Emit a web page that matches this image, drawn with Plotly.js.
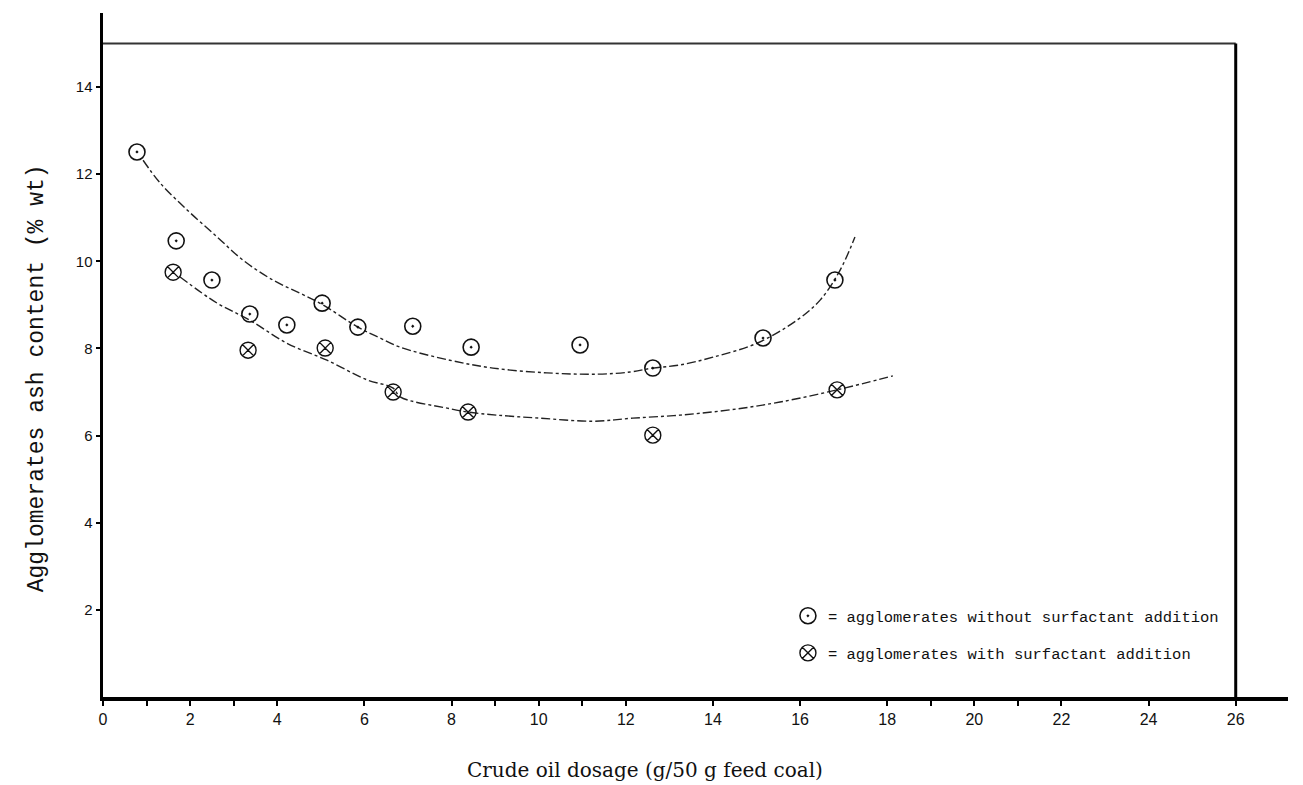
<!DOCTYPE html>
<html>
<head>
<meta charset="utf-8">
<script src="https://cdn.plot.ly/plotly-3.0.1.min.js"></script>
<style>html,body{margin:0;padding:0;background:#fff;}#chart{width:1303px;height:785px;}</style>
</head>
<body>
<div id="chart"></div>
<script>
// Measured points: agglomerates without surfactant addition
var withoutX = [0.78, 1.68, 2.50, 3.37, 4.22, 5.03, 5.85, 7.11, 8.45, 10.95, 12.62, 15.15, 16.80];
var withoutY = [12.51, 10.47, 9.57, 8.79, 8.54, 9.04, 8.49, 8.51, 8.03, 8.08, 7.55, 8.24, 9.57];

// Measured points: agglomerates with surfactant addition
var withX = [1.61, 3.33, 5.10, 6.66, 8.38, 12.62, 16.85];
var withY = [9.75, 7.96, 8.01, 7.00, 6.54, 6.01, 7.05];

// Hand-drawn fitted curve (without surfactant)
var fitWithoutX = [0.92, 1.31, 1.93, 2.62, 3.21, 3.90, 4.52, 5.05, 5.85, 6.36, 6.82, 7.96, 8.95, 10.19, 11.34, 12.10, 12.62, 13.24, 14.00, 15.01, 15.93, 16.46, 16.92, 17.26];
var fitWithoutY = [12.32, 11.80, 11.18, 10.56, 10.03, 9.57, 9.27, 9.00, 8.49, 8.24, 8.03, 7.73, 7.55, 7.44, 7.41, 7.46, 7.55, 7.62, 7.80, 8.12, 8.65, 9.11, 9.80, 10.56];

// Hand-drawn fitted curve (with surfactant)
var fitWithX = [1.77, 2.62, 3.37, 4.22, 5.14, 6.06, 6.66, 6.82, 7.90, 8.38, 9.04, 10.03, 11.25, 12.16, 13.24, 14.39, 15.54, 16.85, 18.13];
var fitWithY = [9.64, 9.04, 8.65, 8.12, 7.73, 7.28, 7.09, 6.89, 6.63, 6.54, 6.47, 6.40, 6.33, 6.40, 6.47, 6.59, 6.77, 7.05, 7.37];

var xTicks = [0, 2, 4, 6, 8, 10, 12, 14, 16, 18, 20, 22, 24, 26];
var yTicks = [2, 4, 6, 8, 10, 12, 14];

var legendWithout = "= agglomerates without surfactant addition";
var legendWith = "= agglomerates with surfactant addition";
var xTitle = "Crude oil dosage (g/50 g feed coal)";
var yTitle = "Agglomerates ash content (% wt)";

var traces = [
  {x: fitWithoutX, y: fitWithoutY, mode: 'lines', line: {color: '#222', width: 1.4, dash: 'dashdot', shape: 'spline'}, showlegend: false, hoverinfo: 'skip'},
  {x: fitWithX, y: fitWithY, mode: 'lines', line: {color: '#222', width: 1.4, dash: 'dashdot', shape: 'spline'}, showlegend: false, hoverinfo: 'skip'},
  {x: withoutX, y: withoutY, mode: 'markers', name: legendWithout, legendgroup: 'a',
   marker: {symbol: 'circle-open-dot', size: 16, color: '#111', line: {color: '#111', width: 1.6}}},
  {x: withX, y: withY, mode: 'markers', name: legendWith, legendgroup: 'b',
   marker: {symbol: 'circle-x-open', size: 16, color: '#111', line: {color: '#111', width: 1.4}}}
];

var layout = {
  width: 1303, height: 785,
  margin: {l: 103, r: 15, t: 13, b: 88},
  paper_bgcolor: '#fff', plot_bgcolor: '#fff',
  showlegend: true,
  legend: {x: 0.578, y: 0.143, xanchor: 'left', yanchor: 'top', bgcolor: 'rgba(0,0,0,0)',
           font: {family: 'Liberation Mono', size: 15.5, color: '#111'}, tracegroupgap: 14, itemwidth: 30},
  xaxis: {range: [0, 27.2], tickvals: xTicks, ticktext: xTicks.map(String), showgrid: false, zeroline: false,
          showline: true, linecolor: '#000', linewidth: 3.5, ticks: 'outside', ticklen: 5, tickwidth: 2, tickcolor: '#000',
          tickfont: {family: 'Liberation Sans', size: 16, color: '#111'},
          minor: {tickvals: [1, 3, 9, 11, 19, 21], ticks: 'outside', ticklen: 5, tickwidth: 2, tickcolor: '#000'}},
  yaxis: {range: [0, 15.7], tickvals: yTicks, ticktext: yTicks.map(String), showgrid: false, zeroline: false,
          showline: true, linecolor: '#000', linewidth: 3.5, ticks: 'outside', ticklen: 4, tickwidth: 2, tickcolor: '#000',
          tickfont: {family: 'Liberation Sans', size: 15, color: '#111'}},
  shapes: [
    {type: 'line', xref: 'x', yref: 'y', x0: 0, x1: 26, y0: 15, y1: 15, line: {color: '#333', width: 2}},
    {type: 'line', xref: 'x', yref: 'y', x0: 26, x1: 26, y0: 0, y1: 15, line: {color: '#000', width: 3}}
  ],
  annotations: [
    {text: xTitle, xref: 'paper', yref: 'paper', x: (645 - 103) / 1185, y: -0.107, xanchor: 'center', yanchor: 'middle',
     showarrow: false, font: {family: 'DejaVu Serif', size: 20, color: '#111'}},
    {text: yTitle, xref: 'paper', yref: 'paper', x: -0.0557, y: 0.466, xanchor: 'center', yanchor: 'middle', textangle: -90,
     showarrow: false, font: {family: 'Liberation Mono', size: 23, color: '#111'}}
  ]
};

Plotly.newPlot('chart', traces, layout, {displayModeBar: false, staticPlot: true});
</script>
</body>
</html>
